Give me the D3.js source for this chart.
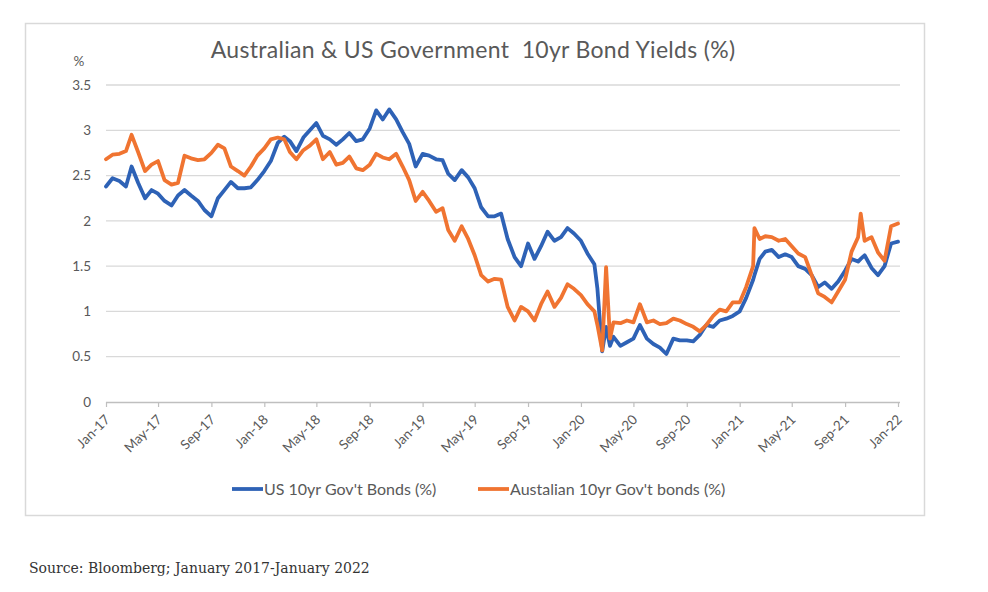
<!DOCTYPE html>
<html>
<head>
<meta charset="utf-8">
<script src="https://cdn.jsdelivr.net/npm/d3@7/dist/d3.min.js"></script>
<style>
  body { margin: 0; background: #fff; }
  svg { display: block; }
</style>
</head>
<body>
<div id="viz-bonds"></div>
<script>
//
// Australian & US 10yr bond yields, two lines on a date axis.
//

var chartTitle = "Australian & US Government\u00a0 10yr Bond Yields (%)";
var sourceNote = "Source: Bloomberg; January 2017-January 2022";
var seriesNames = ["US 10yr Gov't Bonds (%)", "Austalian 10yr Gov't bonds (%)"];
var seriesColors = ["#2e62b6", "#f07431"];

var dates = [
  "2017-01-01","2017-01-16","2017-02-01","2017-02-16","2017-03-01","2017-03-16","2017-04-01","2017-04-16",
  "2017-05-01","2017-05-16","2017-06-01","2017-06-16","2017-07-01","2017-07-16","2017-08-01","2017-08-16",
  "2017-09-01","2017-09-16","2017-10-01","2017-10-16","2017-11-01","2017-11-16","2017-12-01","2017-12-16",
  "2018-01-01","2018-01-16","2018-02-01","2018-02-16","2018-03-01","2018-03-16","2018-04-01","2018-04-16",
  "2018-05-01","2018-05-16","2018-06-01","2018-06-16","2018-07-01","2018-07-16","2018-08-01","2018-08-16",
  "2018-09-01","2018-09-16","2018-10-01","2018-10-16","2018-11-01","2018-11-16","2018-12-01","2018-12-16",
  "2019-01-01","2019-01-16","2019-02-01","2019-02-16","2019-03-01","2019-03-16","2019-04-01","2019-04-16",
  "2019-05-01","2019-05-16","2019-06-01","2019-06-16","2019-07-01","2019-07-16","2019-08-01","2019-08-16",
  "2019-09-01","2019-09-16","2019-10-01","2019-10-16","2019-11-01","2019-11-16","2019-12-01","2019-12-16",
  "2020-01-01","2020-01-16","2020-02-01","2020-02-08","2020-02-19","2020-02-28","2020-03-08","2020-03-16",
  "2020-04-01","2020-04-16","2020-05-01","2020-05-16","2020-06-01","2020-06-16","2020-07-01","2020-07-16",
  "2020-08-01","2020-08-16","2020-09-01","2020-09-16","2020-10-01","2020-10-16","2020-11-01","2020-11-16",
  "2020-12-01","2020-12-16","2021-01-01","2021-01-16","2021-02-01","2021-02-04","2021-02-16","2021-03-01",
  "2021-03-16","2021-04-01","2021-04-16","2021-05-01","2021-05-16","2021-06-01","2021-06-16","2021-07-01",
  "2021-07-16","2021-08-01","2021-08-16","2021-09-01","2021-09-16","2021-10-01","2021-10-07","2021-10-16",
  "2021-11-01","2021-11-16","2021-12-01","2021-12-16","2022-01-01"
];

var usYields = [
  2.38,2.47,2.44,2.38,2.60,2.42,2.25,2.34,
  2.30,2.22,2.17,2.28,2.34,2.28,2.22,2.12,
  2.05,2.25,2.34,2.43,2.36,2.36,2.37,2.45,
  2.55,2.66,2.86,2.93,2.88,2.77,2.92,3.00,
  3.08,2.94,2.90,2.84,2.90,2.97,2.88,2.90,
  3.02,3.22,3.12,3.23,3.12,2.98,2.85,2.60,
  2.74,2.72,2.68,2.67,2.52,2.45,2.56,2.48,
  2.36,2.15,2.05,2.05,2.08,1.80,1.60,1.50,
  1.75,1.58,1.72,1.88,1.78,1.82,1.92,1.86,
  1.78,1.64,1.52,1.25,0.56,0.83,0.62,0.72,
  0.62,0.66,0.70,0.85,0.70,0.64,0.60,0.53,
  0.70,0.68,0.68,0.67,0.74,0.85,0.83,0.90,
  0.92,0.95,1.00,1.15,1.35,1.40,1.58,1.66,
  1.68,1.60,1.63,1.60,1.50,1.47,1.40,1.27,
  1.32,1.25,1.33,1.45,1.58,1.55,1.58,1.62,
  1.48,1.40,1.50,1.75,1.77
];

var auYields = [
  2.68,2.73,2.74,2.77,2.95,2.76,2.55,2.62,
  2.66,2.45,2.40,2.42,2.72,2.69,2.67,2.68,
  2.75,2.84,2.80,2.60,2.55,2.50,2.60,2.72,
  2.80,2.90,2.92,2.90,2.76,2.68,2.78,2.83,
  2.90,2.68,2.76,2.62,2.64,2.71,2.58,2.56,
  2.62,2.74,2.70,2.68,2.74,2.60,2.45,2.22,
  2.32,2.22,2.10,2.14,1.90,1.78,1.94,1.80,
  1.62,1.40,1.33,1.36,1.35,1.05,0.90,1.05,
  1.00,0.90,1.08,1.22,1.05,1.15,1.30,1.25,
  1.18,1.08,1.00,0.85,0.57,1.49,0.70,0.88,
  0.87,0.90,0.88,1.08,0.88,0.90,0.86,0.87,
  0.92,0.90,0.86,0.83,0.78,0.85,0.95,1.02,
  1.00,1.10,1.10,1.27,1.50,1.92,1.80,1.83,
  1.82,1.78,1.80,1.72,1.64,1.60,1.40,1.20,
  1.16,1.10,1.22,1.35,1.66,1.82,2.08,1.78,
  1.82,1.65,1.56,1.94,1.97
];

var tickDates = ["2017-01-01","2017-05-01","2017-09-01","2018-01-01","2018-05-01","2018-09-01",
  "2019-01-01","2019-05-01","2019-09-01","2020-01-01","2020-05-01","2020-09-01",
  "2021-01-01","2021-05-01","2021-09-01","2022-01-01"];
var yTicks = [0, 0.5, 1, 1.5, 2, 2.5, 3, 3.5];
var yTickLabels = ["0", "0.5", "1", "1.5", "2", "2.5", "3", "3.5"];

const W = 988, H = 592;
const margin = { top: 85, right: 89, bottom: 191, left: 106 };
const width = W - margin.left - margin.right;
const height = H - margin.top - margin.bottom;
const labelFont = "Lato, 'Open Sans', sans-serif";
const textGrey = "#595959";

const parseDate = d3.timeParse("%Y-%m-%d");
const fmtTick = d3.timeFormat("%b-%y");

const svg = d3.select('#viz-bonds').append('svg')
  .attr("width", W)
  .attr("height", H);

// chart frame
svg.append('rect')
  .attr('x', 25.5).attr('y', 23.5)
  .attr('width', 899).attr('height', 492)
  .attr('fill', 'none')
  .attr('stroke', '#d9d9d9')
  .attr('stroke-width', 1.5);

svg.append('text')
  .attr('x', 473).attr('y', 58)
  .attr('text-anchor', 'middle')
  .style('font-family', labelFont)
  .style('font-size', '23px')
  .style('letter-spacing', '0.3px')
  .style('fill', textGrey)
  .text(chartTitle);

const g = svg.append('g')
  .attr("transform", `translate(${margin.left},${margin.top})`);

const x = d3.scaleTime()
  .domain([parseDate(tickDates[0]), parseDate(tickDates[tickDates.length - 1])])
  .range([0, width - 1]);
const y = d3.scaleLinear()
  .domain([0, 3.5])
  .range([height + 1, 0]);

// horizontal gridlines (0 is drawn as the axis)
g.append('g')
  .selectAll('line')
  .data(yTicks.filter(d => d > 0))
  .join('line')
  .attr('x1', 0).attr('x2', width + 1)
  .attr('y1', d => y(d)).attr('y2', d => y(d))
  .attr('stroke', '#d9d9d9')
  .attr('stroke-width', 1.3);

// y axis labels
g.append('g')
  .selectAll('text')
  .data(yTicks)
  .join('text')
  .attr('x', -15)
  .attr('y', d => y(d))
  .attr('dy', '0.35em')
  .attr('text-anchor', 'end')
  .style('font-family', labelFont)
  .style('font-size', '13.5px')
  .style('fill', textGrey)
  .text((d, i) => yTickLabels[i]);

svg.append('text')
  .attr('x', 79).attr('y', 66)
  .attr('text-anchor', 'middle')
  .style('font-family', labelFont)
  .style('font-size', '13.5px')
  .style('fill', textGrey)
  .text('%');

// x axis
const xAxis = g.append("g")
  .attr("transform", `translate(0,${y(0)})`)
  .call(d3.axisBottom(x)
    .tickValues(tickDates.map(parseDate))
    .tickSize(5)
    .tickFormat(fmtTick));
xAxis.select('.domain').attr('stroke', '#bfbfbf').attr('stroke-width', 1.3)
  .attr('d', `M0,0.5H${width + 1}`);
xAxis.selectAll('.tick line').attr('stroke', '#bfbfbf').attr('stroke-width', 1.2);
xAxis.selectAll('.tick text')
  .attr('text-anchor', 'end')
  .attr('dy', '0.35em')
  .attr('x', 0).attr('y', 0)
  .attr('transform', 'translate(1,15) rotate(-45)')
  .style('font-family', labelFont)
  .style('font-size', '13.5px')
  .style('fill', textGrey);

// lines, orange on top
const line = d3.line()
  .x((d, i) => x(parseDate(dates[i])))
  .y(d => y(d));

[usYields, auYields].forEach((series, k) => {
  g.append('path')
    .datum(series)
    .attr('d', line)
    .attr('fill', 'none')
    .attr('stroke', seriesColors[k])
    .attr('stroke-width', 3.8)
    .attr('stroke-linejoin', 'round')
    .attr('stroke-linecap', 'round');
});

// legend
var legendX = [232, 478];
seriesNames.forEach((name, k) => {
  const lg = svg.append('g').attr('transform', `translate(${legendX[k]},489)`);
  lg.append('line')
    .attr('x1', 0).attr('x2', 31)
    .attr('stroke', seriesColors[k])
    .attr('stroke-width', 3.8);
  lg.append('text')
    .attr('x', 32).attr('dy', '0.35em')
    .style('font-family', labelFont)
    .style('font-size', '16px')
    .style('fill', textGrey)
    .text(name);
});

svg.append('text')
  .attr('x', 29).attr('y', 573)
  .style('font-family', "'DejaVu Serif', serif")
  .style('font-size', '14px')
  .style('fill', '#333')
  .text(sourceNote);
</script>
</body>
</html>
